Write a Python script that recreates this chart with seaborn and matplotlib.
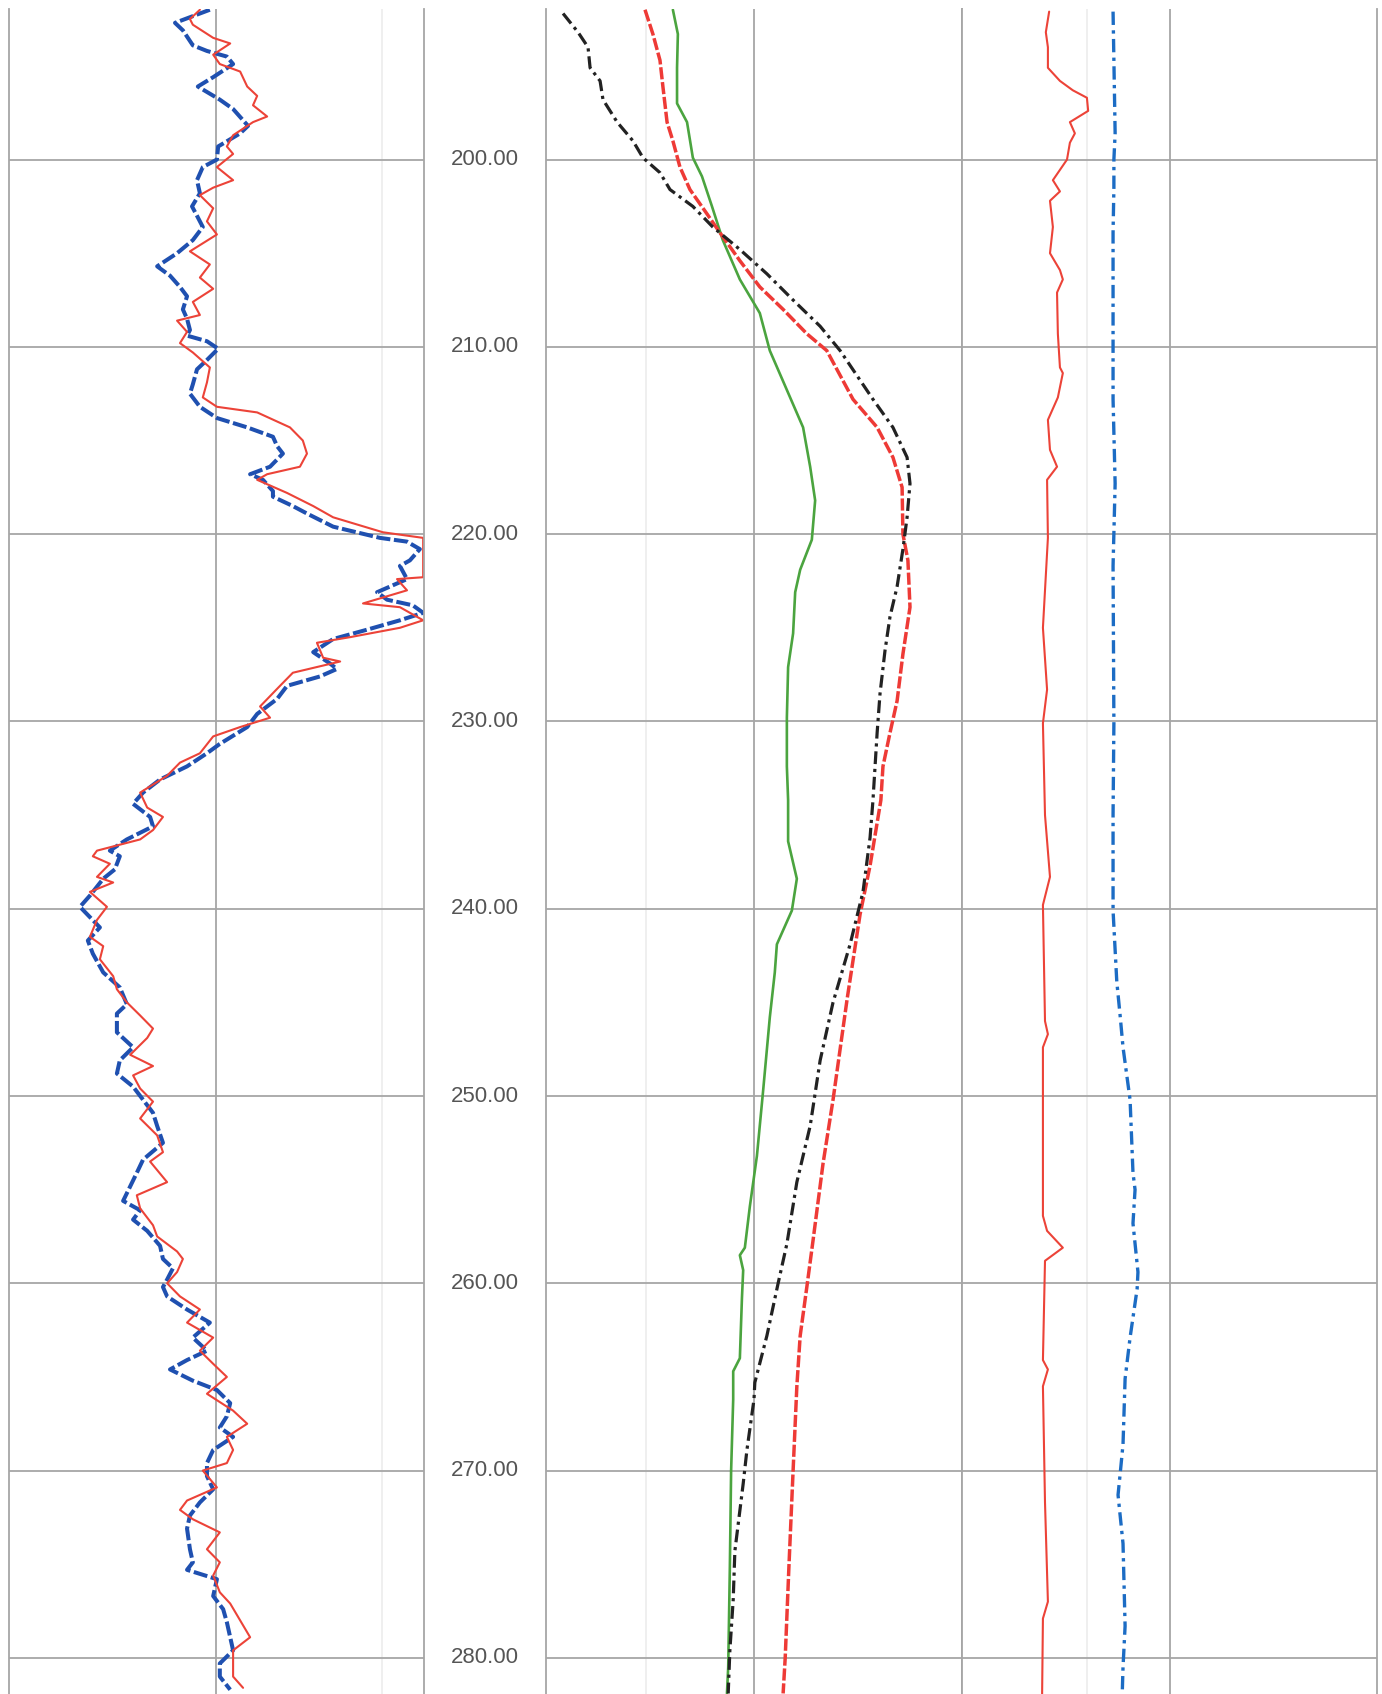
import matplotlib
matplotlib.use("Agg")
import matplotlib.pyplot as plt
import pandas as pd
import seaborn as sns

# depth labels shown in the depth column
depth_ticks = [200, 210, 220, 230, 240, 250, 260, 270, 280]

# track 1 (left) : blue dashed and red solid, values on a 0-100 track scale
gr_blue = [(192.0, 48.4), (192.7, 40.0), (193.1, 41.9), (193.9, 44.3), (194.2, 47.7), (194.5, 52.5),
           (194.9, 54.0), (195.6, 49.2), (196.1, 45.5), (196.8, 50.8), (197.3, 54.0), (198.2, 57.6),
           (198.6, 55.7), (199.3, 50.4), (200.0, 50.1), (200.4, 46.7), (201.1, 45.3), (201.8, 46.0),
           (202.5, 44.1), (203.0, 45.3), (203.6, 46.7), (204.3, 44.3), (205.0, 40.5), (205.7, 35.7),
           (206.2, 38.8), (206.8, 41.2), (207.3, 42.9), (208.0, 41.9), (208.5, 42.9), (209.1, 43.6),
           (209.4, 42.9), (209.7, 47.7), (210.1, 50.4), (210.7, 47.7), (211.2, 45.3), (212.0, 44.3),
           (212.5, 43.6), (213.2, 46.0), (213.8, 50.1), (214.3, 57.4), (214.8, 63.6), (215.3, 64.6),
           (215.7, 66.0), (216.4, 62.9), (216.8, 58.1), (217.1, 61.2), (217.7, 63.6), (218.0, 63.6),
           (218.5, 68.4), (218.9, 71.8), (219.6, 78.1), (220.2, 89.4), (220.4, 95.9), (220.8, 99.0),
           (221.4, 96.6), (221.7, 94.2), (222.4, 95.9), (223.1, 88.7), (223.5, 91.1), (223.8, 97.3),
           (224.2, 99.8), (224.6, 94.2), (225.1, 86.3), (225.6, 78.1), (226.3, 73.3), (226.9, 77.3),
           (227.2, 79.0), (227.6, 74.9), (228.1, 67.0), (228.8, 64.6), (229.6, 59.8), (230.3, 57.4),
           (231.2, 50.8), (231.7, 47.7), (232.4, 42.9), (233.1, 36.4), (233.8, 32.3), (234.4, 29.9),
           (235.1, 34.0), (235.6, 34.7), (236.3, 28.4), (236.9, 24.3), (237.2, 26.7), (237.9, 25.5),
           (238.4, 22.7), (239.3, 19.5), (239.9, 17.1), (241.0, 21.9), (241.7, 19.0), (242.4, 20.2),
           (243.4, 22.7), (244.2, 26.7), (245.1, 28.4), (245.6, 26.0), (246.6, 26.0), (247.4, 29.9),
           (248.1, 26.7), (248.8, 26.0), (249.5, 29.9), (250.2, 32.3), (250.9, 34.7), (251.6, 35.7),
           (252.5, 37.1), (253.4, 32.3), (254.1, 30.8), (255.2, 28.4), (255.6, 27.5), (256.1, 31.6),
           (256.6, 29.9), (257.2, 33.3), (258.0, 36.4), (258.7, 37.1), (259.2, 39.5), (259.8, 38.1),
           (260.2, 37.1), (260.7, 38.1), (261.4, 42.9), (262.1, 48.4), (262.9, 44.3), (263.6, 47.7),
           (264.1, 42.9), (264.6, 38.8), (265.2, 44.3), (265.7, 50.1), (266.4, 53.3), (267.1, 52.5),
           (267.7, 50.8), (268.2, 54.0), (268.9, 49.2), (269.6, 47.7), (270.3, 47.7), (271.0, 49.2),
           (271.7, 46.0), (272.4, 43.6), (273.1, 42.9), (274.2, 43.6), (274.9, 44.3), (275.3, 42.9),
           (275.8, 50.1), (276.7, 49.2), (277.4, 51.6), (278.1, 52.5), (278.9, 53.3), (279.6, 54.0),
           (280.3, 50.8), (281.0, 50.8), (281.7, 53.3)]

gr_red = [(192.0, 46.0), (192.5, 43.6), (192.8, 44.3), (193.5, 49.2), (193.8, 53.3), (194.4, 49.2),
          (194.9, 50.8), (195.3, 55.7), (196.1, 57.4), (196.6, 59.8), (197.1, 58.8), (197.7, 62.2),
          (198.0, 58.8), (198.7, 54.0), (199.3, 52.5), (199.7, 54.0), (200.4, 50.1), (201.1, 54.0),
          (201.5, 49.2), (201.9, 46.0), (202.6, 49.2), (203.3, 47.7), (204.0, 50.1), (204.9, 43.6),
          (205.6, 48.4), (206.3, 46.0), (206.9, 49.2), (207.6, 44.3), (208.3, 46.0), (208.6, 40.5),
          (209.2, 42.9), (209.8, 41.2), (210.3, 44.3), (211.1, 48.4), (211.9, 47.7), (212.7, 46.7),
          (213.2, 50.1), (213.5, 59.8), (214.3, 67.7), (215.0, 70.8), (215.7, 71.8), (216.4, 70.1),
          (216.8, 62.2), (217.1, 59.8), (217.8, 67.0), (218.5, 73.3), (219.1, 78.1), (219.9, 90.1),
          (220.2, 99.8), (221.2, 99.8), (222.3, 99.8), (222.4, 93.5), (223.0, 95.9), (223.7, 85.3),
          (223.9, 94.2), (224.6, 99.8), (225.0, 94.2), (225.5, 82.2), (225.8, 74.2), (226.6, 75.7),
          (226.8, 79.8), (227.4, 68.4), (228.1, 65.3), (229.2, 60.5), (229.8, 62.9), (230.3, 55.7),
          (230.8, 49.2), (231.7, 46.0), (232.2, 41.2), (232.9, 38.1), (233.8, 31.6), (234.6, 33.3),
          (235.1, 37.1), (235.8, 34.7), (236.3, 31.6), (236.9, 21.2), (237.2, 20.2), (237.6, 24.3),
          (238.3, 21.2), (238.6, 25.1), (239.1, 19.5), (239.9, 23.6), (240.6, 21.2), (241.5, 19.5),
          (242.0, 22.7), (242.7, 21.9), (243.6, 25.1), (244.3, 26.0), (245.0, 28.4), (245.7, 31.6),
          (246.4, 34.7), (246.9, 33.3), (247.8, 29.2), (248.4, 34.7), (248.9, 29.9), (249.6, 31.6),
          (250.3, 34.7), (251.2, 31.6), (252.1, 35.7), (253.0, 37.1), (253.5, 34.0), (254.6, 38.1),
          (255.3, 30.8), (256.0, 31.6), (256.9, 34.7), (257.5, 35.7), (258.3, 40.5), (258.7, 41.9),
          (259.4, 40.5), (260.0, 38.1), (260.7, 41.2), (261.4, 46.0), (262.1, 42.9), (262.9, 49.2),
          (263.6, 46.0), (264.3, 49.2), (265.0, 52.5), (265.9, 47.7), (266.8, 54.0), (267.5, 57.4),
          (268.2, 52.5), (268.9, 54.0), (269.6, 52.5), (270.0, 46.7), (270.9, 50.1), (271.6, 42.9),
          (272.1, 41.2), (272.6, 44.3), (273.3, 50.8), (274.2, 47.7), (274.9, 50.8), (275.6, 49.2),
          (276.5, 50.8), (277.1, 53.3), (278.0, 55.7), (278.9, 58.1), (279.6, 54.0), (280.3, 54.0),
          (281.0, 54.0), (281.6, 56.4)]

# track 2 (middle): black dash-dot, red dashed, green solid
mid_black = [(192.2, 4.1), (193.2, 7.7), (194.0, 10.1), (195.1, 10.6), (195.8, 13.0), (196.8, 13.7),
             (198.0, 17.1), (199.0, 20.9), (199.9, 23.3), (200.7, 27.4), (201.6, 29.8), (202.5, 35.3),
             (203.6, 40.1), (204.8, 46.6), (206.1, 53.1), (207.5, 59.4), (208.9, 65.9), (210.2, 70.7),
             (212.8, 78.6), (214.3, 83.4), (215.9, 86.8), (217.3, 87.5), (219.1, 86.8), (220.8, 85.8),
             (222.8, 84.4), (224.4, 82.7), (226.2, 81.5), (228.5, 80.3), (230.6, 79.6), (232.4, 79.1),
             (234.2, 78.6), (236.2, 77.9), (239.1, 76.2), (241.9, 73.1), (245.0, 69.0), (248.1, 65.9),
             (251.6, 63.5), (254.6, 60.3), (257.9, 57.9), (260.0, 55.8), (262.8, 53.1), (265.3, 50.2),
             (266.2, 50.0), (268.9, 48.3), (270.7, 47.4), (272.5, 46.4), (274.3, 45.4), (276.9, 45.0),
             (279.6, 44.2), (281.9, 43.8)]

mid_red = [(192.0, 23.8), (193.3, 25.7), (194.7, 27.4), (196.1, 28.1), (198.0, 29.1), (199.0, 30.5),
           (200.4, 32.2), (201.6, 34.6), (202.9, 38.7), (203.9, 41.8), (205.4, 46.6), (206.8, 51.4),
           (208.0, 57.0), (209.3, 62.7), (210.2, 67.5), (212.8, 73.8), (214.3, 79.6), (215.9, 83.4),
           (217.5, 85.6), (220.0, 85.8), (221.4, 87.0), (223.9, 87.5), (226.4, 85.8), (228.9, 84.4),
           (230.6, 82.7), (232.4, 81.0), (234.2, 80.5), (237.7, 77.9), (240.3, 75.5), (244.8, 72.4),
           (250.2, 69.0), (253.6, 66.6), (257.7, 64.2), (260.2, 62.7), (262.8, 61.1), (265.5, 60.3),
           (270.0, 59.4), (275.1, 58.4), (280.0, 57.5), (281.9, 57.0)]

mid_green = [(192.0, 30.5), (193.3, 31.7), (195.1, 31.5), (197.0, 31.5), (198.0, 33.9), (199.9, 35.3),
             (200.9, 37.5), (202.5, 39.9), (204.3, 42.5), (206.4, 46.6), (208.2, 51.4), (210.2, 53.8),
             (212.3, 57.9), (214.3, 61.8), (216.4, 63.5), (218.2, 64.7), (220.3, 63.9), (221.9, 61.1),
             (223.1, 59.9), (225.3, 59.4), (227.1, 58.2), (229.8, 57.9), (232.4, 57.9), (234.2, 58.2),
             (236.4, 58.2), (238.4, 60.3), (240.1, 59.1), (241.9, 55.5), (243.4, 55.0), (245.8, 53.8),
             (249.7, 52.2), (253.2, 50.7), (255.9, 49.0), (258.1, 47.8), (258.5, 46.6), (259.3, 47.4),
             (260.8, 47.1), (264.0, 46.6), (264.7, 45.0), (266.2, 45.0), (270.0, 44.5), (275.1, 44.2),
             (280.5, 43.8), (281.9, 43.5)]

# track 3 (right): red solid and blue dash-dot
rt_red = [(192.1, 21.0), (193.2, 20.2), (194.0, 20.7), (195.1, 20.7), (195.8, 23.6), (196.3, 26.7),
          (196.7, 30.1), (197.4, 30.4), (198.0, 26.0), (198.6, 27.2), (199.1, 26.0), (200.0, 25.3),
          (201.1, 21.9), (201.7, 23.6), (202.2, 21.2), (203.6, 21.9), (205.0, 21.2), (205.9, 23.6),
          (206.4, 24.3), (207.1, 22.9), (209.3, 23.1), (211.1, 23.6), (211.4, 24.3), (212.7, 23.1),
          (213.9, 20.7), (215.5, 21.2), (216.4, 22.9), (217.1, 20.5), (220.2, 20.7), (225.0, 19.5),
          (228.3, 20.5), (230.1, 19.5), (235.0, 20.0), (238.3, 21.2), (239.8, 19.5), (246.0, 20.0),
          (246.7, 20.7), (247.4, 19.5), (256.4, 19.5), (257.2, 20.5), (258.1, 24.3), (258.8, 20.0),
          (264.1, 19.5), (264.6, 20.7), (265.5, 19.5), (271.7, 20.0), (277.0, 20.7), (277.9, 19.5),
          (282.0, 19.3)]

rt_blue = [(192.1, 36.4), (198.6, 36.9), (200.0, 36.6), (201.5, 36.6), (203.9, 36.4), (212.8, 36.4),
           (217.3, 36.9), (221.7, 36.4), (230.1, 36.6), (235.0, 36.4), (240.1, 36.4), (243.9, 37.3),
           (245.7, 38.1), (247.4, 38.8), (250.2, 40.5), (254.1, 41.2), (255.0, 41.7), (256.8, 41.2),
           (259.4, 42.4), (260.3, 42.2), (262.9, 40.5), (265.1, 39.3), (268.6, 38.8), (270.2, 38.1),
           (271.3, 37.6), (273.9, 38.8), (278.3, 39.3), (280.5, 38.8), (282.0, 38.6)]

W, H = 1382, 1694
TOP = 9
DEPTH_TOP, DEPTH_BOT = 191.96, 281.93
GRID = '#a6a6a6'

sns.set_theme(style='white')
plt.rcParams['font.family'] = ['Liberation Sans', 'DejaVu Sans']

fig = plt.figure(figsize=(W / 100, H / 100), dpi=100)
fig.patch.set_facecolor('white')


def make_track(x0, x1, minor_x):
    ax = fig.add_axes([x0 / W, 0, (x1 - x0) / W, (H - TOP) / H])
    ax.set_xlim(0, 100)
    ax.set_ylim(DEPTH_BOT, DEPTH_TOP)
    ax.set_xticks([50])
    ax.set_xticks([minor_x], minor=True)
    ax.set_yticks(depth_ticks)
    ax.grid(True, which='major', color=GRID, lw=1.3)
    ax.grid(True, which='minor', axis='x', color='#ececec', lw=1.2)
    ax.tick_params(which='both', length=0, labelleft=False, labelbottom=False)
    for side in ['top', 'bottom']:
        ax.spines[side].set_visible(False)
    for side in ['left', 'right']:
        ax.spines[side].set_color(GRID)
        ax.spines[side].set_linewidth(1.3)
    return ax


def draw(ax, pairs, color, lw, ls):
    df = pd.DataFrame(pairs, columns=['depth', 'value'])
    sns.lineplot(data=df, x='value', y='depth', sort=False, estimator=None,
                 color=color, lw=lw, linestyle=ls, ax=ax)
    ax.set_xlabel('')
    ax.set_ylabel('')


ax_left = make_track(9, 424, 90)
ax_mid = make_track(546, 962, 24)
ax_right = make_track(962, 1377, 30)

draw(ax_left, gr_blue, '#1f50b0', 2.9, (0, (3.5, 0.9)))
draw(ax_left, gr_red, '#ec4338', 1.5, '-')

draw(ax_mid, mid_green, '#4ba43f', 1.9, '-')
draw(ax_mid, mid_red, '#ee3a36', 2.5, (0, (3.5, 0.8)))
draw(ax_mid, mid_black, '#222222', 2.3, (0, (4, 1.5, 1, 1.5)))

draw(ax_right, rt_red, '#ec4338', 1.5, '-')
draw(ax_right, rt_blue, '#1c6cc4', 2.4, (0, (4, 1.6, 1, 1.6)))

# depth column between track 1 and track 2
ax_depth = fig.add_axes([424 / W, 0, 122 / W, (H - TOP) / H])
ax_depth.set_ylim(DEPTH_BOT, DEPTH_TOP)
ax_depth.set_xlim(0, 1)
ax_depth.axis('off')
for d in depth_ticks:
    ax_depth.text(0.5, d, f'{d:.2f}', ha='center', va='center',
                  fontsize=16, color='#555555')

fig.savefig('out.png', dpi=100, facecolor='white')
